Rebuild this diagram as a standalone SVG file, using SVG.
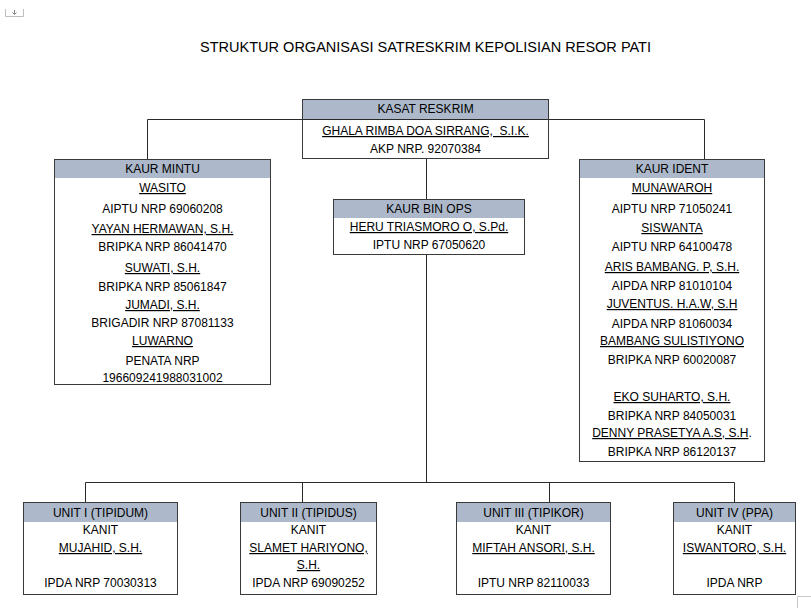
<svg xmlns="http://www.w3.org/2000/svg" width="811" height="608" viewBox="0 0 811 608">
<style>
text{font-family:"Liberation Sans",Arial,sans-serif;font-size:12px;fill:#000;text-anchor:middle}
.title{font-size:15px}
.u{text-decoration:underline}
.box{fill:#fff;stroke:#3a3a3a;stroke-width:1}
.hd{fill:#adb9ca}
.ln{fill:none;stroke:#2a2a2a;stroke-width:1}
.pre{white-space:pre}
</style>
<rect width="811" height="608" fill="#fff"/>
<g id="corner-icons" fill="none" stroke="#bdbdbd" stroke-width="1">
<path d="M5.5,9 V16.5 H23.5 V9"/>
<path d="M14.5,10 V14.5 M12.5,12.5 L14.5,14.5 L16.5,12.5" stroke="#888"/>
<path d="M797.5,608 V596.5 H811" stroke="#c8c8c8"/>
</g>
<text class="title" x="425.5" y="52" textLength="451" lengthAdjust="spacingAndGlyphs">STRUKTUR ORGANISASI SATRESKRIM KEPOLISIAN RESOR PATI</text>
<g id="connectors" class="ln">
<path d="M302,119.5 H147.5 V159"/>
<path d="M549,119.5 H704.5 V159"/>
<path d="M426.5,159 V199"/>
<path d="M426.5,255 V482.5"/>
<path d="M85.5,502 V482.5 H734.5 V502"/>
<path d="M302.5,482.5 V502"/>
<path d="M549.5,482.5 V502"/>
</g>
<g id="kasat">
<rect class="box" x="302.5" y="99.5" width="246" height="59"/>
<rect class="hd" x="303" y="100" width="245" height="19"/>
<line class="ln" x1="303" y1="119.5" x2="548" y2="119.5" stroke="#9aa6b8"/>
<text x="425.5" y="113">KASAT RESKRIM</text>
<text x="425.5" y="135" class="u pre">GHALA RIMBA DOA SIRRANG,  S.I.K.</text>
<text x="425.5" y="153">AKP NRP. 92070384</text>
</g>
<g id="kaur-mintu">
<rect class="box" x="54.5" y="159.5" width="216" height="225"/>
<rect class="hd" x="55" y="160" width="215" height="18"/>
<text x="162.5" y="173">KAUR MINTU</text>
<text x="162.5" y="192" class="u">WASITO</text>
<text x="162.5" y="213">AIPTU NRP 69060208</text>
<text x="162.5" y="233" class="u">YAYAN HERMAWAN, S.H.</text>
<text x="162.5" y="251">BRIPKA NRP 86041470</text>
<text x="162.5" y="272" class="u">SUWATI, S.H.</text>
<text x="162.5" y="291">BRIPKA NRP 85061847</text>
<text x="162.5" y="309" class="u">JUMADI, S.H.</text>
<text x="162.5" y="327">BRIGADIR NRP 87081133</text>
<text x="162.5" y="345" class="u">LUWARNO</text>
<text x="162.5" y="365">PENATA NRP</text>
<text x="162.5" y="382">196609241988031002</text>
</g>
<g id="kaur-bin-ops">
<rect class="box" x="333.5" y="199.5" width="191" height="55"/>
<rect class="hd" x="334" y="200" width="190" height="18"/>
<text x="429" y="213">KAUR BIN OPS</text>
<text x="429" y="231" class="u">HERU TRIASMORO O, S.Pd.</text>
<text x="429" y="249">IPTU NRP 67050620</text>
</g>
<g id="kaur-ident">
<rect class="box" x="579.5" y="159.5" width="185" height="302"/>
<rect class="hd" x="580" y="160" width="184" height="18"/>
<text x="672" y="173">KAUR IDENT</text>
<text x="672" y="192" class="u">MUNAWAROH</text>
<text x="672" y="213">AIPTU NRP 71050241</text>
<text x="672" y="232" class="u">SISWANTA</text>
<text x="672" y="251">AIPTU NRP 64100478</text>
<text x="672" y="271" class="u">ARIS BAMBANG. P, S.H.</text>
<text x="672" y="290">AIPDA NRP 81010104</text>
<text x="672" y="308" class="u">JUVENTUS. H.A.W, S.H</text>
<text x="672" y="328">AIPDA NRP 81060034</text>
<text x="672" y="345" class="u">BAMBANG SULISTIYONO</text>
<text x="672" y="364">BRIPKA NRP 60020087</text>
<text x="672" y="401" class="u">EKO SUHARTO, S.H.</text>
<text x="672" y="420">BRIPKA NRP 84050031</text>
<text x="672" y="437"><tspan class="u">DENNY PRASETYA A.S, S.H</tspan>.</text>
<text x="672" y="456">BRIPKA NRP 86120137</text>
</g>
<g id="unit-1">
<rect class="box" x="23.5" y="502.5" width="154" height="92"/>
<rect class="hd" x="24" y="503" width="153" height="19"/>
<text x="100.5" y="517">UNIT I (TIPIDUM)</text>
<text x="100.5" y="534">KANIT</text>
<text x="100.5" y="552" class="u">MUJAHID, S.H.</text>
<text x="100.5" y="587">IPDA NRP 70030313</text>
</g>
<g id="unit-2">
<rect class="box" x="240.5" y="502.5" width="136" height="92"/>
<rect class="hd" x="241" y="503" width="135" height="19"/>
<text x="308.5" y="517">UNIT II (TIPIDUS)</text>
<text x="308.5" y="534">KANIT</text>
<text x="308.5" y="552" class="u">SLAMET HARIYONO,</text>
<text x="308.5" y="569" class="u">S.H.</text>
<text x="308.5" y="587">IPDA NRP 69090252</text>
</g>
<g id="unit-3">
<rect class="box" x="456.5" y="502.5" width="154" height="92"/>
<rect class="hd" x="457" y="503" width="153" height="19"/>
<text x="533.5" y="517">UNIT III (TIPIKOR)</text>
<text x="533.5" y="534">KANIT</text>
<text x="533.5" y="552" class="u">MIFTAH ANSORI, S.H.</text>
<text x="533.5" y="587">IPTU NRP 82110033</text>
</g>
<g id="unit-4">
<rect class="box" x="673.5" y="502.5" width="122" height="92"/>
<rect class="hd" x="674" y="503" width="121" height="19"/>
<text x="734.5" y="517">UNIT IV (PPA)</text>
<text x="734.5" y="534">KANIT</text>
<text x="734.5" y="552" class="u">ISWANTORO, S.H.</text>
<text x="734.5" y="587">IPDA NRP</text>
</g>
</svg>
